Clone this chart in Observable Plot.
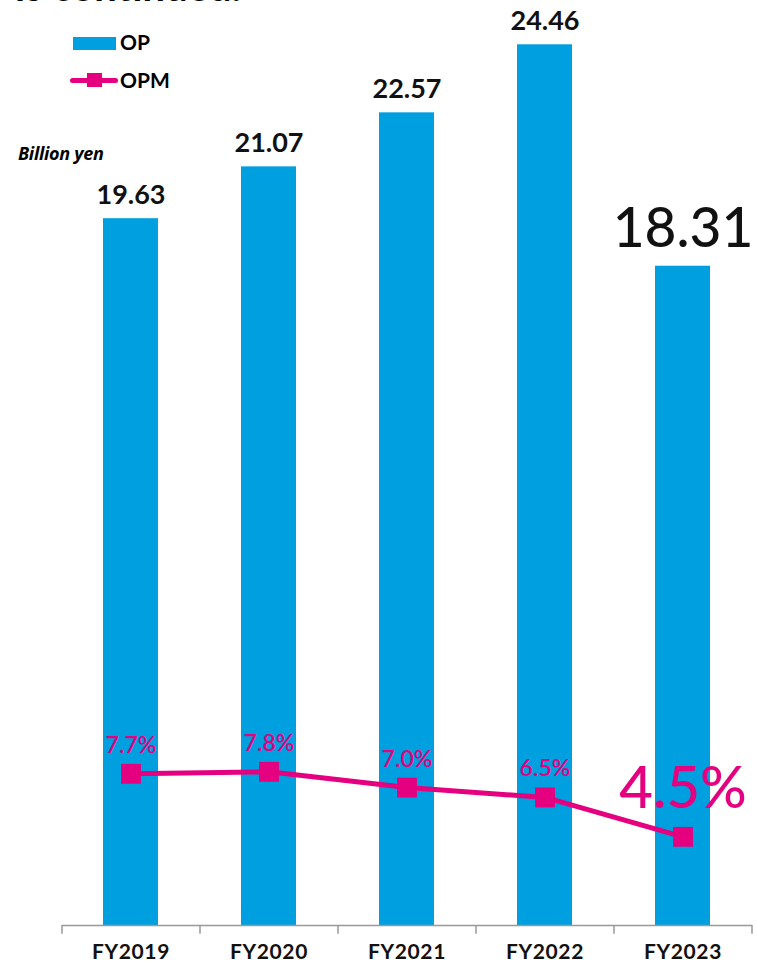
<!DOCTYPE html>
<html>
<head>
<meta charset="utf-8">
<script src="https://cdn.jsdelivr.net/npm/d3@7"></script>
<script src="https://cdn.jsdelivr.net/npm/@observablehq/plot@0.6"></script>
<style>
  html, body { margin: 0; padding: 0; background: #fff; overflow: hidden; }
  #wrap { position: relative; width: 757px; height: 964px; font-family: Lato, "Open Sans", sans-serif; }
  #wrap svg { position: absolute; left: 0; top: 0; }
  .ov { position: absolute; white-space: nowrap; color: #000; }
  #title { left: 15px; top: -34px; font-size: 40px; font-weight: 700; line-height: 40px; }
  #unit { left: 18px; top: 143px; font-size: 18px; font-weight: 700; font-style: italic; line-height: 20px; font-family: "Open Sans", sans-serif; letter-spacing: -0.3px; }
  .lg { font-size: 21px; font-weight: 700; line-height: 22px; }
  svg g[aria-label="x-axis tick label"] text { letter-spacing: 0.6px; }
</style>
</head>
<body>
<div id="wrap">
  <div class="ov" id="title">is continued.</div>
  <div class="ov" style="left:73px;top:37px;width:43px;height:13px;background:#009FDF"></div>
  <div class="ov lg" style="left:120px;top:31px;">OP</div>
  <div class="ov" style="left:70px;top:77.5px;width:48px;height:5px;background:#E4007F;border-radius:3px"></div>
  <div class="ov" style="left:87px;top:73px;width:15px;height:14px;background:#E4007F"></div>
  <div class="ov lg" style="left:120px;top:69px;">OPM</div>
  <div class="ov" id="unit">Billion yen</div>
</div>
<script>
const years = ["FY2019", "FY2020", "FY2021", "FY2022", "FY2023"];
const op = [19.63, 21.07, 22.57, 24.46, 18.31];
const opm = [7.7, 7.8, 7.0, 6.5, 4.5];
const opLabels = ["19.63", "21.07", "22.57", "24.46", "18.31"];
const opmLabels = ["7.7%", "7.8%", "7.0%", "6.5%", "4.5%"];

const BLUE = "#009FDF";
const MAGENTA = "#E4007F";
// secondary (OPM %) axis mapped onto the OP scale: 0–46.95% spans same height as 0–25.69
const OP_MAX = 25.69, OPM_MAX = 46.95;
const k = OP_MAX / OPM_MAX;

const data = years.map((y, i) => ({
  year: y, op: op[i], opm: opm[i], opLabel: opLabels[i], opmLabel: opmLabels[i], last: i === years.length - 1
}));
const bandStep = (752 - 62) / years.length;

const chart = Plot.plot({
  width: 757,
  height: 964,
  marginLeft: 62,
  marginRight: 5,
  marginTop: 0,
  marginBottom: 39,
  style: { fontFamily: "Lato, 'Open Sans', sans-serif", background: "transparent", overflow: "visible" },
  x: { domain: years, paddingInner: 0.6, paddingOuter: 0.3, label: null },
  y: { domain: [0, OP_MAX], axis: null },
  marks: [
    Plot.barY(data, { x: "year", y: "op", fill: BLUE }),
    Plot.ruleY([0], { stroke: "#999", strokeWidth: 1.5 }),
    Plot.ruleX(data, { x: "year", dx: -bandStep / 2, y1: 0, y2: -0.24, stroke: "#999", strokeWidth: 1.5 }),
    Plot.ruleX(data.slice(-1), { x: "year", dx: bandStep / 2, y1: 0, y2: -0.24, stroke: "#999", strokeWidth: 1.5 }),
    Plot.axisX({ tickSize: 0, tickPadding: 19, fontSize: 21, fontWeight: "bold", fill: "#111", label: null }),
    Plot.text(data.filter(d => !d.last), { x: "year", y: "op", text: "opLabel", dy: -15, lineAnchor: "bottom", fontSize: 27, fontWeight: "bold", fill: "#111" }),
    Plot.text(data.filter(d => d.last), { x: "year", y: "op", text: "opLabel", dy: -19, lineAnchor: "bottom", fontSize: 55, fontWeight: 500, fill: "#111" }),
    Plot.line(data, { x: "year", y: d => d.opm * k, stroke: MAGENTA, strokeWidth: 5 }),
    Plot.dot(data, { x: "year", y: d => d.opm * k, symbol: "square", r: 11.2, fill: MAGENTA, stroke: null }),
    Plot.text(data.filter(d => !d.last), { x: "year", y: d => d.opm * k, text: "opmLabel", dy: -21, lineAnchor: "bottom", fontSize: 23, fontWeight: 600, fill: MAGENTA }),
    Plot.text(data.filter(d => d.last), { x: "year", y: d => d.opm * k, text: "opmLabel", dy: -29, lineAnchor: "bottom", fontSize: 58, fontWeight: 500, fill: MAGENTA })
  ]
});
document.getElementById("wrap").prepend(chart);
</script>
</body>
</html>
